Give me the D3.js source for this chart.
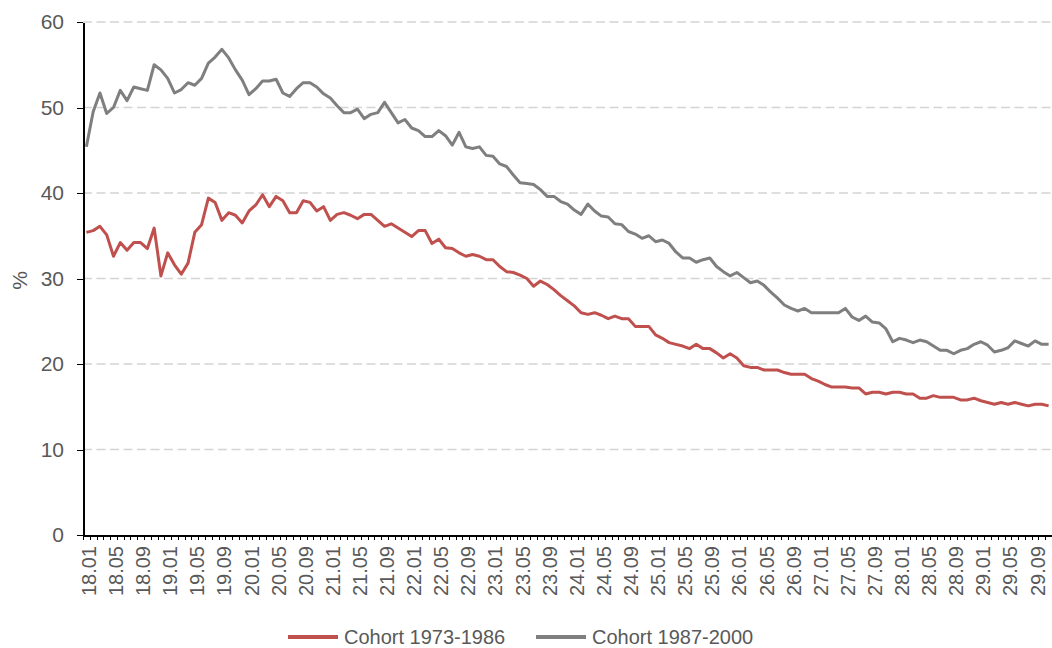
<!DOCTYPE html>
<html>
<head>
<script src="https://d3js.org/d3.v7.min.js"></script>
<style>
body { margin: 0; background: #fff; }
svg { font-family: "Liberation Sans", Arial, sans-serif; }
.axis path, .axis line { stroke: #000; shape-rendering: crispEdges; }
.axis text { fill: #595959; }
.grid line { stroke: #d4d4d4; stroke-width: 1.5; stroke-dasharray: 9,4.5; }
</style>
</head>
<body>
<div id="canvas"></div>
<script>
var years = d3.range(18, 30);
var monthNames = ["01","02","03","04","05","06","07","08","09","10","11","12"];
var months = [];
years.forEach(function(y) {
    monthNames.forEach(function(m) { months.push(y + "." + m); });
});
months = months.slice(0, 143); // 18.01 .. 29.11

var yTicks = [0, 10, 20, 30, 40, 50, 60];
var seriesNames = ["Cohort 1973-1986", "Cohort 1987-2000"];
var seriesColors = ["#c0504d", "#7f7f7f"];

var cohort7386 = [
    35.4, 35.6, 36.1, 35.1, 32.6, 34.2, 33.3, 34.2, 34.2, 33.5,
    35.9, 30.3, 33.0, 31.6, 30.5, 31.8, 35.4, 36.3, 39.4, 38.9,
    36.8, 37.7, 37.4, 36.5, 37.9, 38.6, 39.8, 38.4, 39.6, 39.1,
    37.7, 37.7, 39.1, 38.9, 37.9, 38.4, 36.8, 37.5, 37.7, 37.4,
    37.0, 37.5, 37.5, 36.8, 36.1, 36.4, 35.9, 35.4, 34.9, 35.6,
    35.6, 34.1, 34.6, 33.6, 33.5, 33.0, 32.6, 32.8, 32.6, 32.2,
    32.2, 31.4, 30.8, 30.7, 30.4, 30.0, 29.1, 29.7, 29.3, 28.7,
    28.0, 27.4, 26.8, 26.0, 25.8, 26.0, 25.7, 25.3, 25.6, 25.3,
    25.3, 24.4, 24.4, 24.4, 23.4, 23.0, 22.5, 22.3, 22.1, 21.8,
    22.3, 21.8, 21.8, 21.3, 20.7, 21.2, 20.7, 19.8, 19.6, 19.6,
    19.3, 19.3, 19.3, 19.0, 18.8, 18.8, 18.8, 18.3, 18.0, 17.6,
    17.3, 17.3, 17.3, 17.2, 17.2, 16.5, 16.7, 16.7, 16.5, 16.7,
    16.7, 16.5, 16.5, 16.0, 16.0, 16.3, 16.1, 16.1, 16.1, 15.8,
    15.8, 16.0, 15.7, 15.5, 15.3, 15.5, 15.3, 15.5, 15.3, 15.1,
    15.3, 15.3, 15.1
];

var cohort8700 = [
    45.4, 49.5, 51.7, 49.3, 50.0, 52.0, 50.8, 52.4, 52.2, 52.0,
    55.0, 54.4, 53.4, 51.7, 52.1, 52.9, 52.6, 53.4, 55.2, 55.9,
    56.8, 55.8, 54.4, 53.2, 51.5, 52.2, 53.1, 53.1, 53.3, 51.7,
    51.3, 52.2, 52.9, 52.9, 52.4, 51.6, 51.1, 50.2, 49.4, 49.4,
    49.8, 48.7, 49.2, 49.4, 50.6, 49.4, 48.2, 48.6, 47.6, 47.3,
    46.6, 46.6, 47.3, 46.7, 45.6, 47.1, 45.4, 45.2, 45.4, 44.4,
    44.3, 43.4, 43.1, 42.1, 41.2, 41.1, 41.0, 40.4, 39.6, 39.6,
    39.0, 38.7, 38.0, 37.5, 38.7, 37.9, 37.3, 37.2, 36.4, 36.3,
    35.5, 35.2, 34.7, 35.0, 34.3, 34.5, 34.1, 33.1, 32.4, 32.4,
    31.9, 32.2, 32.4, 31.4, 30.8, 30.3, 30.7, 30.1, 29.5, 29.7,
    29.2, 28.4, 27.7, 26.9, 26.5, 26.2, 26.5, 26.0, 26.0, 26.0,
    26.0, 26.0, 26.5, 25.5, 25.1, 25.6, 24.9, 24.8, 24.1, 22.6,
    23.0, 22.8, 22.5, 22.8, 22.6, 22.1, 21.6, 21.6, 21.2, 21.6,
    21.8, 22.3, 22.6, 22.2, 21.4, 21.6, 21.9, 22.7, 22.4, 22.1,
    22.7, 22.3, 22.3
];

var width = 1052, height = 648,
    plotLeft = 83, plotRight = 1052, plotTop = 22, plotBottom = 535;

var svg = d3.select("#canvas").append("svg")
    .attr("width", width)
    .attr("height", height);

var xIdx = d3.scaleLinear().domain([0, months.length]).range([plotLeft, plotRight]);
var yScale = d3.scaleLinear().domain([0, 60]).range([plotBottom, plotTop]);

// gridlines
svg.append("g")
    .attr("class", "grid")
    .selectAll("line")
    .data(yTicks.filter(function(t) { return t > 0; }))
    .enter().append("line")
    .attr("x1", plotLeft).attr("x2", plotRight)
    .attr("y1", function(d) { return yScale(d); })
    .attr("y2", function(d) { return yScale(d); });

// y axis
var yAxis = svg.append("g")
    .attr("class", "axis")
    .attr("transform", "translate(" + plotLeft + ",0)")
    .call(d3.axisLeft(yScale).tickValues(yTicks).tickSize(6).tickSizeOuter(0).tickPadding(13));
yAxis.selectAll("text").style("font-size", "21px");
yAxis.select(".domain").attr("stroke-width", 2);

svg.append("text")
    .attr("transform", "translate(27," + ((plotTop + plotBottom) / 2 + 2) + ") rotate(-90)")
    .attr("text-anchor", "middle")
    .attr("fill", "#595959")
    .style("font-size", "21px")
    .text("%");

// x axis: a tick between every month
var xTicks = svg.append("g")
    .attr("class", "axis")
    .attr("transform", "translate(0," + plotBottom + ")")
    .call(d3.axisBottom(xIdx).tickValues(d3.range(0, months.length + 1)).tickFormat("").tickSize(5).tickSizeOuter(0));
xTicks.select(".domain").attr("stroke-width", 2);

// x labels every 4th month
var labelIdx = d3.range(0, months.length, 4);
var xLabels = svg.append("g")
    .attr("class", "axis")
    .attr("transform", "translate(0," + plotBottom + ")")
    .call(d3.axisBottom(xIdx).tickValues(labelIdx.map(function(i) { return i + 0.5; }))
        .tickFormat(function(d) { return months[Math.floor(d)]; }).tickSize(0));
xLabels.select(".domain").remove();
xLabels.selectAll("text")
    .style("font-size", "20px")
    .attr("text-anchor", "end")
    .attr("transform", "rotate(-90)")
    .attr("x", -11)
    .attr("y", 0)
    .attr("dy", "0.45em");

// lines
var line = d3.line()
    .x(function(d, i) { return xIdx(i + 0.5); })
    .y(function(d) { return yScale(d); });

[cohort7386, cohort8700].forEach(function(data, k) {
    svg.append("path")
        .datum(data)
        .attr("fill", "none")
        .attr("stroke", seriesColors[k])
        .attr("stroke-width", 3)
        .attr("stroke-linejoin", "round")
        .attr("d", line);
});

// legend
var legendX = [288, 536];
seriesNames.forEach(function(name, k) {
    var g = svg.append("g").attr("transform", "translate(" + legendX[k] + ",637)");
    g.append("line")
        .attr("x1", 0).attr("x2", 50)
        .attr("stroke", seriesColors[k])
        .attr("stroke-width", 4);
    g.append("text")
        .attr("x", 56).attr("dy", "0.35em")
        .attr("fill", "#595959")
        .style("font-size", "20px")
        .text(name);
});
</script>
</body>
</html>
